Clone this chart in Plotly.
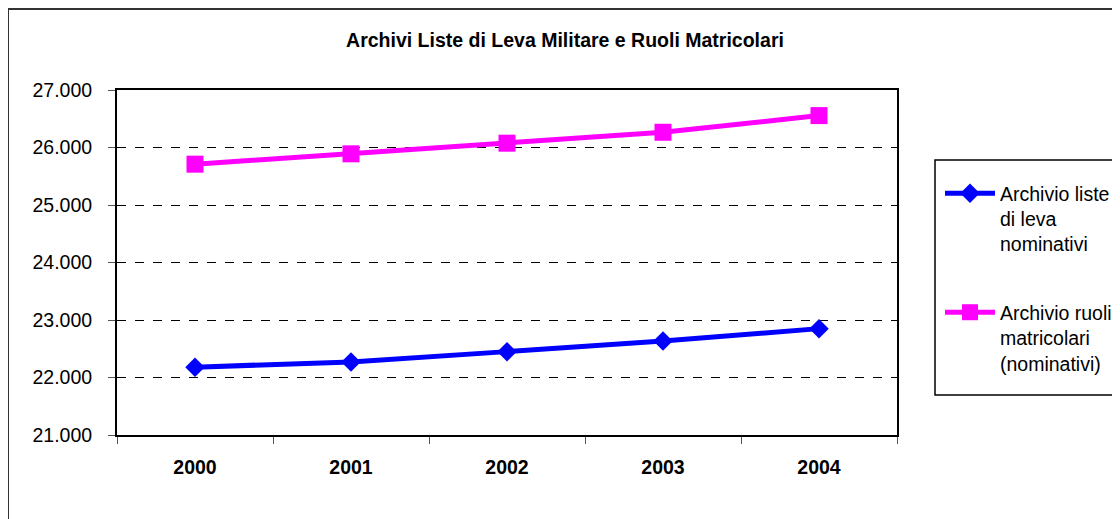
import plotly.graph_objects as go

years = ["2000", "2001", "2002", "2003", "2004"]
liste_leva = [22180, 22270, 22450, 22635, 22850]
ruoli_matricolari = [25710, 25890, 26075, 26265, 26555]
y_ticks = [21000, 22000, 23000, 24000, 25000, 26000, 27000]
y_tick_labels = ["21.000", "22.000", "23.000", "24.000", "25.000", "26.000", "27.000"]

name_blue = "Archivio liste<br>di leva<br>nominativi"
name_pink = "Archivio ruoli<br>matricolari<br>(nominativi)"

FONT = "Liberation Sans, Arial, sans-serif"
FS = 19.5

# page body has an 8px margin: work in reference coords minus 8
OFF = 8
W, H = 1120 - OFF, 519 - OFF

def px(x):
    return x - OFF

L = px(117)
T = px(90)
R = W - px(897)
B = H - px(435)
pw = W - L - R
ph = H - T - B

def fx(x):
    return (px(x) - L) / pw

def fy(y):
    return (px(435) - px(y)) / ph

fig = go.Figure()
fig.add_trace(go.Scatter(
    x=years, y=liste_leva, mode="lines+markers", name=name_blue, legendgroup="a",
    line=dict(color="#0000FF", width=5),
    marker=dict(symbol="diamond", size=15, color="#0000FF"),
))
fig.add_trace(go.Scatter(
    x=years, y=ruoli_matricolari, mode="lines+markers", name=name_pink, legendgroup="b",
    line=dict(color="#FF00FF", width=5),
    marker=dict(symbol="square", size=17, color="#FF00FF"),
))

fig.update_layout(
    width=W, height=H,
    margin=dict(l=L, r=R, t=T, b=B, autoexpand=False),
    paper_bgcolor="white", plot_bgcolor="white",
    font=dict(family=FONT, size=FS, color="black"),
    title=dict(text="<b>Archivi Liste di Leva Militare e Ruoli Matricolari</b>",
               x=px(565) / W, xanchor="center", y=1 - px(40) / H, yanchor="middle",
               font=dict(size=FS, family=FONT)),
    showlegend=True,
    legend=dict(x=fx(940), xanchor="left", y=fy(174), yanchor="top",
                borderwidth=0, bgcolor="rgba(0,0,0,0)",
                font=dict(size=FS, family=FONT), valign="top",
                tracegroupgap=40, itemwidth=50),
    xaxis=dict(type="category", showline=True, linecolor="black", linewidth=2,
               mirror=True, ticks="outside", tickson="boundaries", ticklen=7,
               tickcolor="#555", tickfont=dict(size=FS, family=FONT, weight="bold"),
               ticklabelstandoff=14,
               showgrid=False, zeroline=False, range=[-0.5, 4.5]),
    yaxis=dict(range=[21000, 27000], tickvals=y_ticks, ticktext=y_tick_labels,
               showline=True, linecolor="black", linewidth=2, mirror=True,
               ticks="outside", ticklen=7, tickcolor="#555",
               tickfont=dict(size=FS, family=FONT), ticklabelstandoff=12,
               showgrid=True, gridcolor="black", gridwidth=1, griddash="dash",
               zeroline=False),
)

# outer chart border (top and left visible)
fig.add_shape(type="rect", xref="paper", yref="paper",
              x0=fx(8), x1=fx(1135), y0=fy(540), y1=fy(9),
              line=dict(color="#333", width=2), layer="below")

# legend frame
fig.add_shape(type="rect", xref="paper", yref="paper",
              x0=fx(935), x1=fx(1119), y0=fy(395), y1=fy(160),
              line=dict(color="black", width=1.5), layer="below")

fig.write_html("out.html")
